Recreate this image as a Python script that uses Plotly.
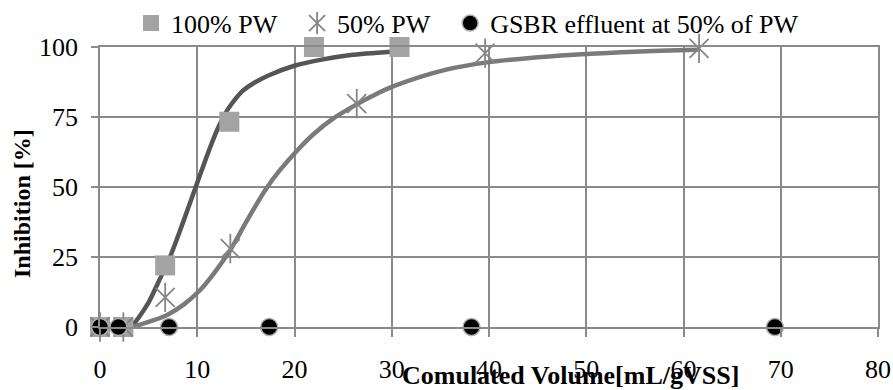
import plotly.graph_objects as go

# ---- data ----
pw100_x = [0, 2.4, 6.7, 13.3, 22.0, 30.8]
pw100_y = [0, 0, 22, 73.3, 100, 100]

pw50_x = [0, 2.4, 6.7, 13.4, 26.4, 39.6, 61.6]
pw50_y = [0, 0, 10.6, 28, 79.8, 97.8, 99.5]

gsbr_x = [0, 1.9, 7.1, 17.4, 38.2, 69.4]
gsbr_y = [0, 0, 0, 0, 0, 0]

# trend curves
fit100_x = [3.2, 4.0, 5.0, 6.0, 7.2, 8.5, 10.0, 11.2, 12.0, 12.8, 13.6, 14.7, 16.0, 17.5, 20.0, 22.5, 26.0, 30.8]
fit100_y = [0, 3.5, 8.8, 16, 25, 37, 51.5, 63, 70, 75.8, 80, 84.4, 87.5, 90.1, 93.3, 95.3, 97.2, 98.5]

fit50_x = [3.3, 5.0, 6.9, 8.6, 10.3, 12.0, 13.4, 15.2, 17.1, 18.5, 20.4, 22.0, 24.0, 26.4, 28.0, 30.2,
           35.7, 40.0, 45.0, 50.0, 55.0, 61.5]
fit50_y = [0, 1.8, 4.3, 8.0, 13.2, 20.5, 27.5, 38.5, 49.5, 56, 63.5, 69, 74.5, 79.5, 82.5, 86,
           92, 94.6, 96.3, 97.5, 98.3, 99]

x_ticks = [0, 10, 20, 30, 40, 50, 60, 70, 80]
y_ticks = [0, 25, 50, 75, 100]

FONT = "Liberation Serif"
GRID = "#8a8a8a"

fig = go.Figure()

fig.add_trace(go.Scatter(x=fit100_x, y=fit100_y, mode="lines", line=dict(color="#555555", width=4.5, shape="spline"),
                         showlegend=False, hoverinfo="skip", cliponaxis=False))
fig.add_trace(go.Scatter(x=fit50_x, y=fit50_y, mode="lines", line=dict(color="#7a7a7a", width=4.5, shape="spline"),
                         showlegend=False, hoverinfo="skip", cliponaxis=False))

fig.add_trace(go.Scatter(x=pw100_x, y=pw100_y, mode="markers", name="100% PW", legend="legend",
                         marker=dict(symbol="square", size=20, color="#a3a3a3"), cliponaxis=False))
fig.add_trace(go.Scatter(x=pw50_x, y=pw50_y, mode="markers", name="50% PW", legend="legend2",
                         marker=dict(symbol="x-thin-open", size=19, color="#858585", line=dict(width=1.8, color="#858585")),
                         cliponaxis=False))
fig.add_trace(go.Scatter(x=pw50_x, y=pw50_y, mode="markers", name=" ", legend="legend4",
                         marker=dict(symbol="line-ns-open", size=21, color="#858585", line=dict(width=1.8, color="#858585")),
                         cliponaxis=False))
fig.add_trace(go.Scatter(x=gsbr_x, y=gsbr_y, mode="markers", name="GSBR effluent at 50% of PW", legend="legend3",
                         marker=dict(symbol="circle", size=17, color="black", line=dict(width=1.5, color="#b0b0b0")),
                         cliponaxis=False))

PLOT_L, PLOT_W = 100, 777.7


def lx(px):
    return (px - PLOT_L) / PLOT_W


leg_common = dict(orientation="h", yanchor="middle", xanchor="left", y=1.085, bgcolor="rgba(0,0,0,0)",
                  font=dict(family=FONT, size=26, color="black"), itemwidth=30, borderwidth=0)

fig.update_layout(
    width=893, height=390,
    margin=dict(l=100, r=15.3, t=47, b=63, pad=0, autoexpand=False),
    paper_bgcolor="white", plot_bgcolor="white",
    font=dict(family=FONT, size=26, color="black"),
    legend=dict(x=lx(131), **leg_common),
    legend2=dict(x=lx(297), **leg_common),
    legend4=dict(x=lx(297), **leg_common),
    legend3=dict(x=lx(450), **leg_common),
    xaxis=dict(range=[0, 80], tickvals=x_ticks, showgrid=True, gridcolor=GRID, gridwidth=1.5,
               zeroline=False, showline=True, linecolor=GRID, linewidth=1.5, mirror=True,
               ticks="outside", ticklen=8, tickwidth=1.5, tickcolor=GRID, automargin=False,
               tickfont=dict(family=FONT, size=26, color="black"), ticklabelstandoff=10, fixedrange=True),
    yaxis=dict(range=[0, 100], tickvals=y_ticks, showgrid=True, gridcolor=GRID, gridwidth=1.5,
               zeroline=False, showline=True, linecolor=GRID, linewidth=1.5, mirror=True,
               ticks="outside", ticklen=7, tickwidth=1.5, tickcolor=GRID, automargin=False,
               tickfont=dict(family=FONT, size=26, color="black"), ticklabelstandoff=8, fixedrange=True),
    annotations=[
        dict(text="<b>Inhibition [%]</b>", xref="paper", yref="paper", x=lx(22), y=(327 - 203) / 280,
             textangle=-90, showarrow=False, xanchor="center", yanchor="middle",
             font=dict(family=FONT, size=24, color="black")),
        dict(text="<b>Comulated Volume[mL/gVSS]</b>", xref="paper", yref="paper", x=lx(570), y=(327 - 375) / 280,
             showarrow=False, xanchor="center", yanchor="middle",
             font=dict(family=FONT, size=26, color="black")),
    ],
)

fig.write_html("out.html")
